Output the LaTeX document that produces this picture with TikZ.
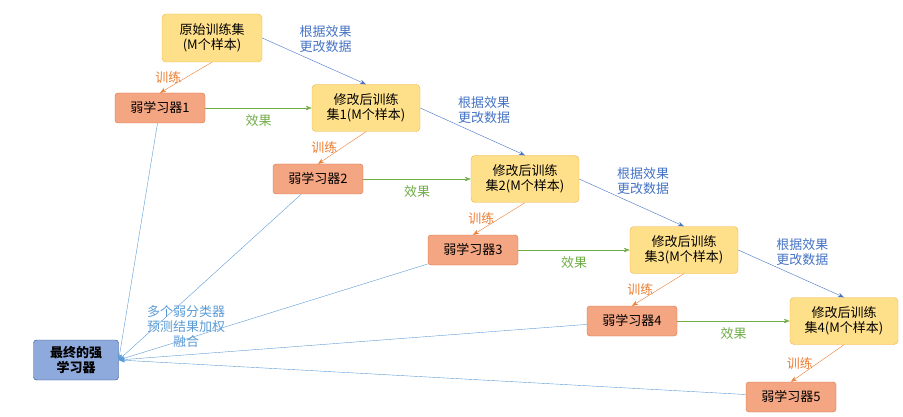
\documentclass[tikz,border=0pt]{standalone}
\usepackage{fontspec}
\setmainfont{Noto Sans CJK SC}
\usetikzlibrary{arrows.meta}
\definecolor{setfill}{HTML}{FFE08A}
\definecolor{setline}{HTML}{F0B040}
\definecolor{weakfill}{HTML}{F4A582}
\definecolor{weakline}{HTML}{D9734A}
\definecolor{strongfill}{HTML}{8EA9DB}
\definecolor{strongline}{HTML}{2F4F8F}
\definecolor{trainc}{HTML}{ED7D31}
\definecolor{effectc}{HTML}{70AD47}
\definecolor{changec}{HTML}{4472C4}
\definecolor{fusec}{HTML}{5B9BD5}
\begin{document}
\begin{tikzpicture}[x=1pt,y=-1pt,font=\fontsize{13}{15}\selectfont,
  setbox/.style={draw=setline,fill=setfill,rounded corners=4pt,minimum width=108pt,minimum height=47pt,align=center,inner sep=1pt},
  weakbox/.style={draw=weakline,fill=weakfill,rounded corners=3pt,minimum width=90pt,minimum height=30pt},
  strongbox/.style={draw=strongline,fill=strongfill,rounded corners=3pt,minimum width=85pt,minimum height=40pt,align=center,font=\fontsize{13}{15}\selectfont\bfseries},
  train/.style={trainc,-{Stealth[length=6pt]}},
  effect/.style={effectc,-{Stealth[length=6pt]}},
  change/.style={changec,-{Stealth[length=6pt]}},
  fuse/.style={fusec,-{Stealth[length=6pt]}}]

\useasboundingbox (0,0) rectangle (903,417);

\node[setbox,minimum width=100pt,minimum height=48pt] (s0) at (212,38) {原始训练集\\(M个样本)};
\node[setbox] (s1) at (366,108) {修改后训练\\集1(M个样本)};
\node[setbox] (s2) at (525,179) {修改后训练\\集2(M个样本)};
\node[setbox] (s3) at (684,250) {修改后训练\\集3(M个样本)};
\node[setbox] (s4) at (844,321) {修改后训练\\集4(M个样本)};

\node[weakbox] (w1) at (160,108) {弱学习器1};
\node[weakbox] (w2) at (318,179) {弱学习器2};
\node[weakbox] (w3) at (473,250) {弱学习器3};
\node[weakbox] (w4) at (632,321) {弱学习器4};
\node[weakbox] (w5) at (791,397) {弱学习器5};

\node[strongbox] (f) at (76,360) {最终的强\\学习器};

% training
\draw[train] (s0.south) -- (w1.north) node[midway,left=1pt]{训练};
\draw[train] (s1.south) -- (w2.north) node[midway,left=1pt]{训练};
\draw[train] (s2.south) -- (w3.north) node[midway,left=1pt]{训练};
\draw[train] (s3.south) -- (w4.north) node[midway,left=1pt]{训练};
\draw[train] (s4.south) -- (w5.north) node[midway,left=1pt]{训练};

% effect
\foreach \i in {1,...,4}
  \draw[effect] (w\i.east) -- (s\i.west) node[midway,below=3pt]{效果};

% change data
\foreach \i/\j in {0/1,1/2,2/3,3/4}
  \draw[change] (s\i.east) -- (s\j.north) node[pos=0.35,anchor=south west,inner sep=1pt,align=center,changec]{根据效果\\更改数据};

% fuse
\foreach \i in {1,...,5}
  \draw[fuse] (w\i) -- (f.east);
\node[fusec,align=center] (txt) at (186,327) {多个弱分类器\\预测结果加权\\融合};

\end{tikzpicture}
\end{document}
